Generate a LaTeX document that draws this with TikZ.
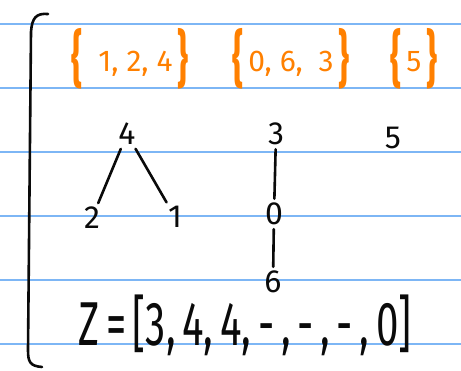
\documentclass[tikz,border=0pt]{standalone}
\usepackage{fontspec}
\setmainfont{Fira Sans}
\usepackage{tikz}
\usetikzlibrary{positioning}
\definecolor{ruleblue}{RGB}{125, 182, 245}
\definecolor{penorange}{RGB}{255, 128, 0}
\definecolor{penink}{RGB}{10, 10, 10}
\newcommand{\obr}{\raisebox{-9pt}{\scalebox{0.55}[1]{\fontsize{62}{62}\selectfont\bfseries\{}}}
\newcommand{\cbr}{\raisebox{-9pt}{\scalebox{0.55}[1]{\fontsize{62}{62}\selectfont\bfseries\}}}}

\begin{document}
\begin{tikzpicture}[
  x=1pt, y=-1pt,
  ruled/.style={ruleblue, line width=1.6pt},
  ink/.style={penink, line width=2.6pt, line cap=round, line join=round},
  vert/.style={inner sep=2pt, font=\fontsize{32}{32}\selectfont, text=penink},
  setlbl/.style={inner sep=0pt, font=\fontsize{30}{30}\selectfont, text=penorange},
  edge/.style={ink, shorten <=2pt, shorten >=2pt}
]
  \fill[white] (0,0) rectangle (461,371);
  \useasboundingbox (0,0) rectangle (461,371);
  \foreach \yy in {24,88,...,344}
    \draw[ruled] (0,\yy) -- (461,\yy);

  % big bracket
  \draw[ink] (48,14) .. controls (36,13) and (32,18) .. (31,32) -- (28,350) .. controls (28,362) and (30,366) .. (42,367);

  % sets
  \node[setlbl] (setA) at (130,59) {\obr\ \ 1,\ 2,\ 4\,\cbr};
  \node[setlbl] (setB) at (291,59) {\obr\,0,\ 6,\ \ 3\,\cbr};
  \node[setlbl] (setC) at (414,59) {\obr\,5\,\cbr};

  % trees
  \node[vert] (n4) at (127,134) {4};
  \node[vert] (n2) at (92,218) {2};
  \node[vert] (n1) at (175,217) {1};
  \node[vert] (n3) at (276,134) {3};
  \node[vert] (n0) at (274,214) {0};
  \node[vert] (n6) at (273,282) {6};
  \node[vert] (n5) at (393,138) {5};

  \draw[edge] (n4) -- (n2);
  \draw[edge] (n4) -- (n1);
  \draw[edge] (n3) -- (n0);
  \draw[edge] (n0) -- (n6);

  \node[inner sep=0pt, font=\fontsize{62}{62}\selectfont, text=penink] (zarr) at (245,325) {\scalebox{0.65}[1]{Z\,=\,[3,\,4,\,4,\,-\,,\,-\,,\,-\,,\,0]}};
\end{tikzpicture}
\end{document}
